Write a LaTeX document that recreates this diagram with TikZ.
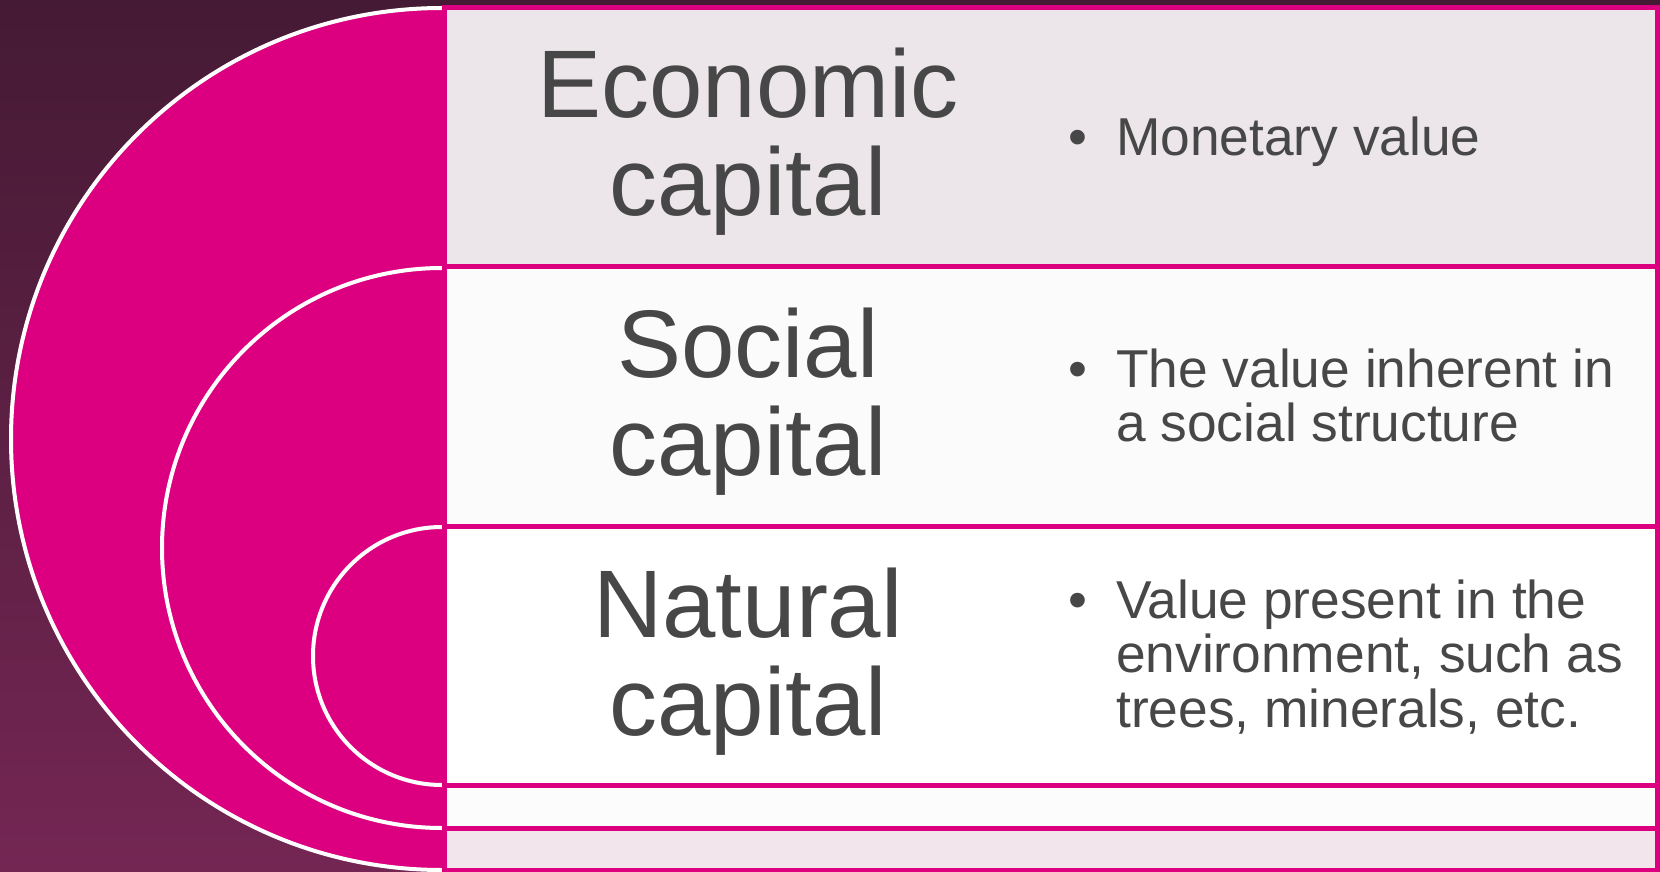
\documentclass[tikz,border=0pt]{standalone}
\usepackage{fontspec}
\setmainfont{Liberation Sans}
\definecolor{bgtop}{HTML}{451A34}
\definecolor{bgbot}{HTML}{742653}
\definecolor{mag}{HTML}{DC0080}
\definecolor{txt}{HTML}{474747}
\definecolor{fillA}{HTML}{ECE6EA}
\definecolor{fillB}{HTML}{FBFBFB}
\definecolor{fillC}{HTML}{FFFFFF}
\definecolor{fillD}{HTML}{FCFCFC}
\definecolor{fillE}{HTML}{F2E6EC}
\begin{document}
\begin{tikzpicture}[x=1pt,y=-1pt,
  panel/.style={draw=mag, line width=5pt},
  arcline/.style={draw=white, line width=4pt},
  title/.style={font=\fontsize{96}{98.4}\selectfont, text=txt, align=center, anchor=base, inner sep=0pt},
  bulletmark/.style={font=\fontsize{54}{55}\selectfont, text=txt, anchor=base, inner sep=0pt},
  body/.style={font=\fontsize{53.3}{54.8}\selectfont, text=txt, align=left, anchor=base west, inner sep=0pt}]
\useasboundingbox (0,0) rectangle (1660,872);
\shade[top color=bgtop, bottom color=bgbot] (0,0) rectangle (1660,872);
% half discs
\fill[mag] (442,8) arc[start angle=270, end angle=90, radius=431] -- cycle;
\draw[arcline] (442,8) arc[start angle=270, end angle=90, radius=431];
\draw[arcline] (442,268) arc[start angle=270, end angle=90, radius=280];
\draw[arcline] (442,527) arc[start angle=270, end angle=90, radius=129];
% panels
\draw[panel, fill=fillA] (444.5,7.5) rectangle (1657.5,266.5);
\draw[panel, fill=fillB] (444.5,266.5) rectangle (1657.5,526.5);
\draw[panel, fill=fillC] (444.5,526.5) rectangle (1657.5,785.5);
\draw[panel, fill=fillD] (444.5,785.5) rectangle (1657.5,828.5);
\draw[panel, fill=fillE] (444.5,828.5) rectangle (1657.5,870.5);
% titles (anchor = baseline of last line)
\node[title] (econ) at (748,215.7) {Economic\\capital};
\node[title] (soc) at (748,475.7) {Social\\capital};
\node[title] (nat) at (748,735.7) {Natural\\capital};
% bullets
\node[bulletmark] (b1) at (1078,155.6) {•};
\node[body] (t1) at (1116,155.6) {Monetary value};
\node[bulletmark] (b2) at (1078,387.5) {•};
\node[body] (t2) at (1116,441.8) {The value inherent in\\a social structure};
\node[bulletmark] (b3) at (1078,618) {•};
\node[body] (t3) at (1116,727.6) {Value present in the\\environment, such as\\trees, minerals, etc.};
\end{tikzpicture}
\end{document}
